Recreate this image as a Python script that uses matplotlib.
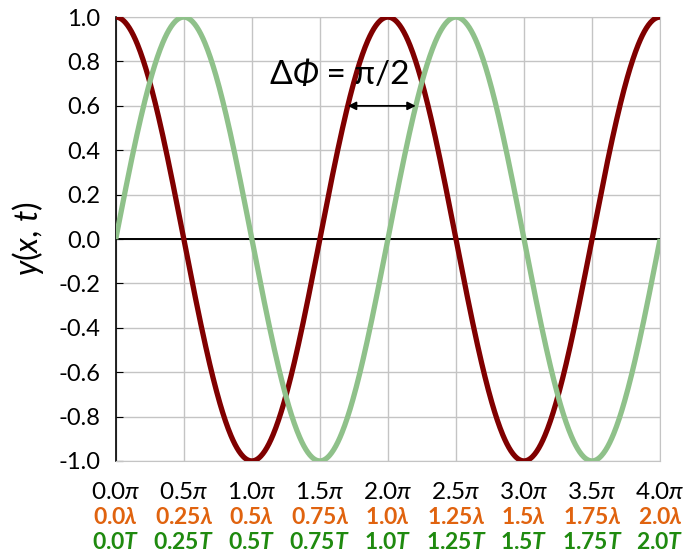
import numpy as np
import matplotlib
matplotlib.use('Agg')
import matplotlib.pyplot as plt
from matplotlib import transforms
from matplotlib.offsetbox import TextArea, HPacker, AnnotationBbox

plt.rcParams['font.family'] = ['Lato', 'DejaVu Sans']
plt.rcParams['mathtext.fontset'] = 'custom'
plt.rcParams['mathtext.it'] = 'Lato:italic'
plt.rcParams['mathtext.rm'] = 'Lato'
plt.rcParams['mathtext.bf'] = 'Lato:bold'
plt.rcParams['mathtext.bfit'] = 'Lato:italic:bold'
plt.rcParams['mathtext.fallback'] = 'stixsans'

# wave parameters (phase in units of pi)
wave_names = ['cos', 'sin']
wave_amp = [1.0, 1.0]
wave_phase = [0.0, -0.5]
wave_colors = ['#800000', '#8fc18a']

x_max_pi = 4.0
pi_labels = ['0.0', '0.5', '1.0', '1.5', '2.0', '2.5', '3.0', '3.5', '4.0']
lam_labels = ['0.0', '0.25', '0.5', '0.75', '1.0', '1.25', '1.5', '1.75', '2.0']
T_labels = ['0.0', '0.25', '0.5', '0.75', '1.0', '1.25', '1.5', '1.75', '2.0']
y_ticks = [-1.0, -0.8, -0.6, -0.4, -0.2, 0.0, 0.2, 0.4, 0.6, 0.8, 1.0]


def mixed_label(ax, x, y, parts, tr):
    # parts: list of (text, props) drawn side by side, centred on (x, y)
    boxes = [TextArea(t, textprops=p) for t, p in parts]
    pack = HPacker(children=boxes, align='baseline', pad=0, sep=0)
    ab = AnnotationBbox(pack, (x, y), xycoords=tr, frameon=False,
                        box_alignment=(0.5, 0.5), pad=0, annotation_clip=False)
    ax.add_artist(ab)


fig = plt.figure(figsize=(6.89, 5.52), dpi=100)
ax = fig.add_axes([0.168, 0.165, 0.79, 0.804])

xx = np.linspace(0, x_max_pi, 800)
for amp, ph, col in zip(wave_amp, wave_phase, wave_colors):
    ax.plot(xx, amp * np.cos(np.pi * (xx + ph)), color=col, lw=3.8,
            solid_capstyle='butt', zorder=3)

ax.axhline(0, color='black', lw=1.4, zorder=2)

ax.set_xlim(0, x_max_pi)
ax.set_ylim(-1.0, 1.0)
xt = np.arange(0, x_max_pi + 0.01, 0.5)
ax.set_xticks(xt)
ax.set_xticklabels([])
ax.set_yticks(y_ticks)
ax.set_yticklabels(['%.1f' % v for v in y_ticks], fontsize=17)
ax.grid(True, color='#c4c4c4', lw=1)
ax.set_axisbelow(True)
for s in ['top', 'right', 'bottom']:
    ax.spines[s].set_color('#c4c4c4')
ax.spines['left'].set_color('black')
ax.spines['left'].set_linewidth(1.2)
ax.tick_params(axis='y', direction='in', length=5, color='black', pad=11)
ax.tick_params(axis='x', length=0)

# three rows of x labels
tr = transforms.blended_transform_factory(ax.transData, ax.transAxes)
fam = ['Lato', 'DejaVu Sans']
orange = '#e0630f'
green = '#1f8a0f'
for i, x in enumerate(xt):
    ax.text(x, -0.072, pi_labels[i] + r'$\pi$', transform=tr,
            ha='center', va='center', fontsize=17.5, color='black')
    ax.text(x, -0.128, lam_labels[i] + r'$\mathbfit{\lambda}$', transform=tr,
            ha='center', va='center', fontsize=16.5, color=orange, fontweight='bold')
    ax.text(x, -0.183, T_labels[i] + r'$\mathbfit{T}$', transform=tr,
            ha='center', va='center', fontsize=16.5, color=green, fontweight='bold')

ax.set_ylabel(r'$y$($x$, $t$)', fontsize=23, labelpad=9)

# phase difference arrow
ax.annotate('', xy=(1.705, 0.6), xytext=(2.205, 0.6),
            arrowprops=dict(arrowstyle='<|-|>', color='black', lw=1.3,
                            mutation_scale=12, shrinkA=0, shrinkB=0))
mixed_label(ax, 1.645, 0.74, [
    ('Δ', dict(fontsize=24, color='black', family=fam)),
    ('Φ', dict(fontsize=24, color='black', family=fam, style='italic')),
    (' = π/2', dict(fontsize=24, color='black', family=fam))], ax.transData)

fig.savefig('out.png', dpi=100)
